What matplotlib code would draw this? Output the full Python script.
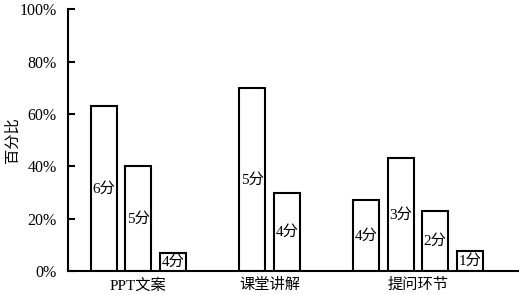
import numpy as np
import matplotlib.pyplot as plt
from matplotlib.ticker import FuncFormatter

plt.rcParams['font.family'] = ['Liberation Serif', 'Noto Sans CJK SC']

# data
categories = ['PPT文案', '课堂讲解', '提问环节']
group_values = [[63, 40, 7], [70, 30], [27, 43, 23, 7.5]]
group_labels = [['6分', '5分', '4分'], ['5分', '4分'], ['4分', '3分', '2分', '1分']]

gap = 2.3  # space between groups, in bar pitches
fig = plt.figure(figsize=(5.19, 2.95), dpi=100)
ax = fig.add_axes([0.131, 0.081, 0.869, 0.888])

start = 0.0
centers = []
for vals, labs in zip(group_values, group_labels):
    xs = start + np.arange(len(vals))
    ax.bar(xs, vals, width=0.76, color='white', edgecolor='black', linewidth=1.5)
    for x, v, t in zip(xs, vals, labs):
        ax.text(x, v / 2, t, ha='center', va='center', fontsize=11)
    centers.append(xs.mean())
    start = xs[-1] + gap

ax.set_xlim(-1.04, 12.03)
ax.set_ylim(0, 100)
ax.set_xticks(centers)
ax.set_xticklabels(categories, fontsize=11)
ax.tick_params(axis='x', length=0, pad=5)
ax.set_yticks(np.arange(0, 101, 20))
ax.yaxis.set_major_formatter(FuncFormatter(lambda v, p: f'{int(v)}%'))
ax.tick_params(axis='y', direction='in', length=5, width=1.5, labelsize=11.5, pad=8)
ax.set_ylabel('百分比', fontsize=11)
ax.yaxis.set_label_coords(-0.106, 0.5)

for s in ['top', 'right']:
    ax.spines[s].set_visible(False)
for s in ['left', 'bottom']:
    ax.spines[s].set_linewidth(1.5)

fig.savefig('out.png', dpi=100)
